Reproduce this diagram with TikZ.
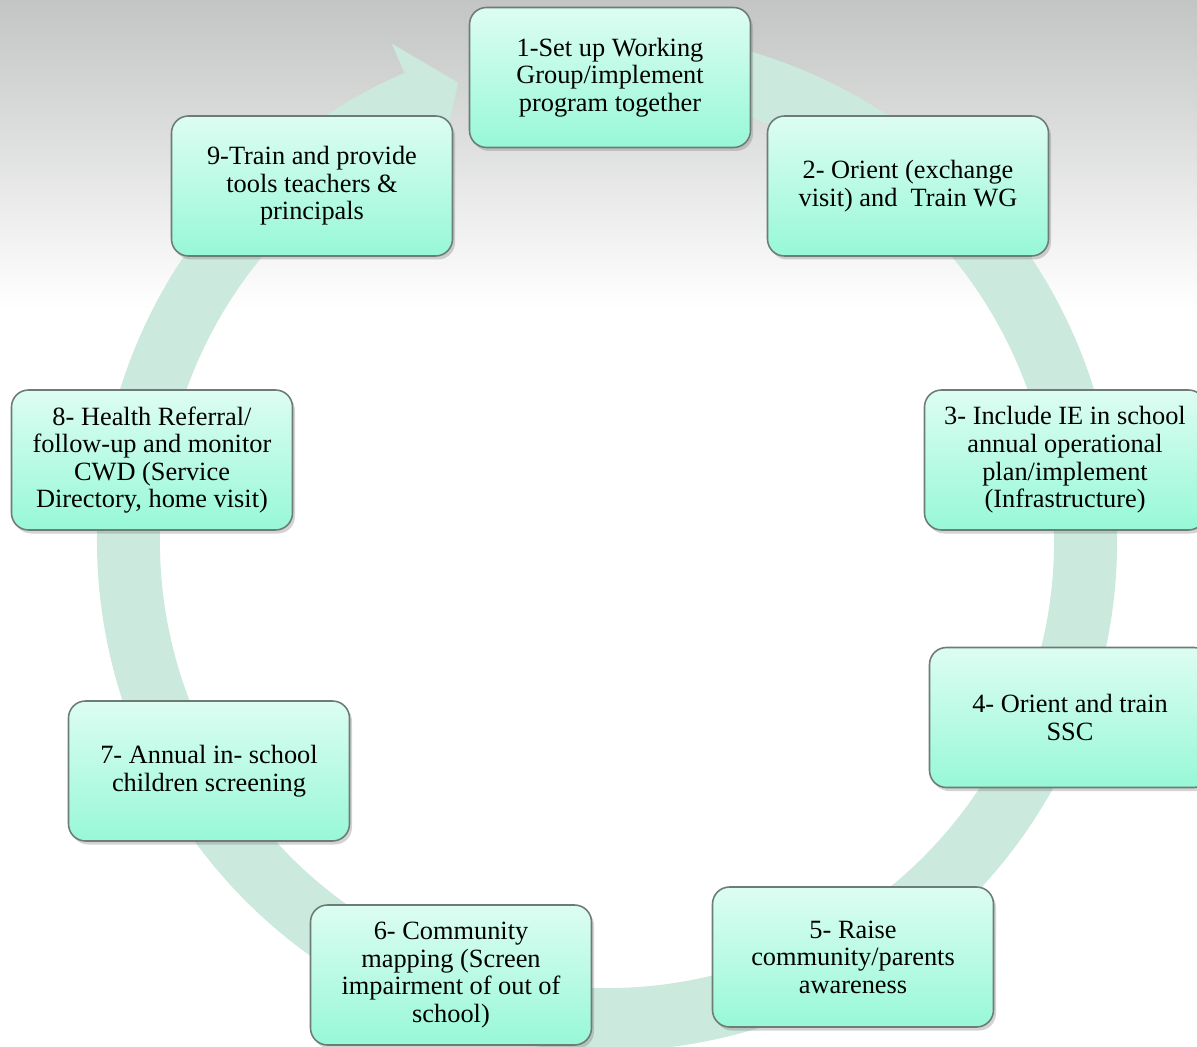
\documentclass[tikz,border=0pt]{standalone}
\usepackage{fontspec}
\setmainfont{Liberation Serif}
\usepackage{tikz}
\usetikzlibrary{shadows}
\definecolor{ringgreen}{HTML}{CBE9DC}
\definecolor{boxtop}{HTML}{DDFDF2}
\definecolor{boxbottom}{HTML}{97F8D7}
\definecolor{boxline}{HTML}{6E7C77}
\definecolor{bgtop}{HTML}{C2C5C3}
\definecolor{bgmid}{HTML}{E2E5E5}
\tikzset{
  stepbox/.style = {rectangle, rounded corners=0.34cm, draw=boxline, line width=0.9pt,
    top color=boxtop, bottom color=boxbottom,
    minimum width=5.62cm, minimum height=2.8cm, inner sep=2pt, align=center,
    font=\fontsize{15}{15.7}\selectfont,
    drop shadow={shadow xshift=0.05cm, shadow yshift=-0.07cm, opacity=0.35}},
  cyclering/.style = {fill=ringgreen}
}

\begin{document}
\begin{tikzpicture}
  \useasboundingbox (0,0) rectangle (23.94,-20.94);

  % faded backdrop at the top
  \shade[top color=bgtop, middle color=bgmid, bottom color=white] (0,0) rectangle (23.94,-6.2);

  % circular arrow behind the steps
  \begin{scope}[shift={(12.14,-10.82)}]
    \fill[cyclering] (100:10.2) arc[start angle=100, end angle=-246.6, radius=10.2]
      -- (113.4:10.84) -- (108:9.64) -- (113.4:8.32)
      -- (-246.6:8.94) arc[start angle=-246.6, end angle=100, radius=8.94] -- cycle;
  \end{scope}

  \node[stepbox] (s1) at (12.2,-1.55) {1-Set up Working\\Group/implement\\program together};
  \node[stepbox] (s2) at (18.16,-3.72) {2- Orient (exchange\\visit) and\ \ Train WG};
  \node[stepbox] (s3) at (21.3,-9.2) {3- Include IE in school\\annual operational\\plan/implement\\(Infrastructure)};
  \node[stepbox] (s4) at (21.4,-14.35) {4- Orient and train\\SSC};
  \node[stepbox] (s5) at (17.06,-19.14) {5- Raise\\community/parents\\awareness};
  \node[stepbox] (s6) at (9.02,-19.5) {6- Community\\mapping (Screen\\impairment of out of\\school)};
  \node[stepbox] (s7) at (4.18,-15.42) {7- Annual in- school\\children screening};
  \node[stepbox] (s8) at (3.04,-9.2) {8- Health Referral/\\follow-up and monitor\\CWD (Service\\Directory, home visit)};
  \node[stepbox] (s9) at (6.24,-3.72) {9-Train and provide\\tools teachers \&\\principals};

\end{tikzpicture}
\end{document}
